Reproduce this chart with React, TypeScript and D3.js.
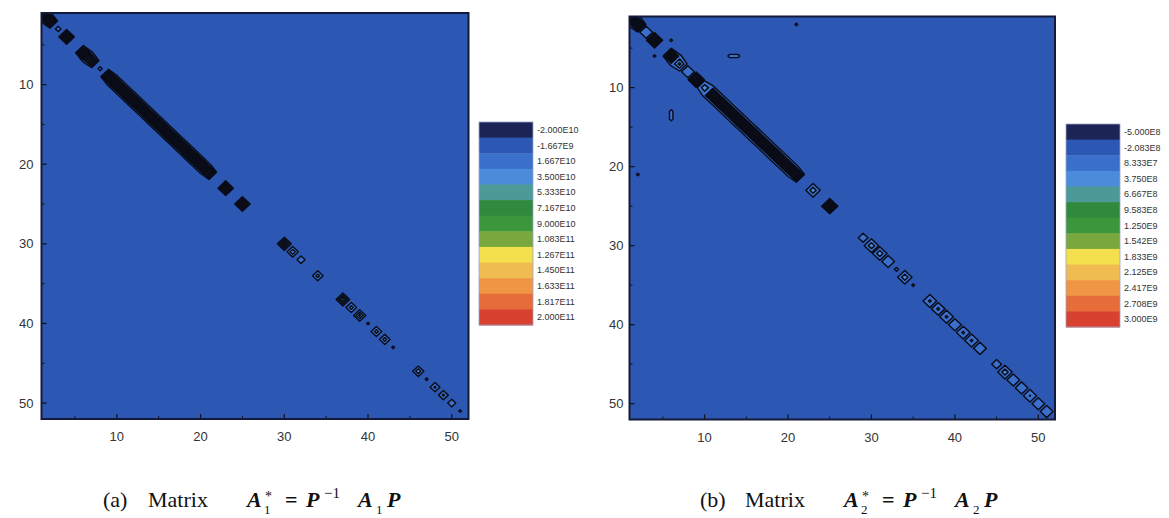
import React from "react";
import * as d3 from "d3";

const SIZE = 52;
const axisTicks = [10, 20, 30, 40, 50];
const minorTicks = [5, 15, 25, 35, 45];

const levelsA = [-2.0e10, -1.667e9, 1.667e10, 3.5e10, 5.333e10, 7.167e10, 9.0e10, 1.083e11, 1.267e11, 1.45e11, 1.633e11, 1.817e11, 2.0e11];
const levelLabelsA = ["-2.000E10", "-1.667E9", "1.667E10", "3.500E10", "5.333E10", "7.167E10", "9.000E10", "1.083E11", "1.267E11", "1.450E11", "1.633E11", "1.817E11", "2.000E11"];
const levelsB = [-5.0e8, -2.083e8, 8.333e7, 3.75e8, 6.667e8, 9.583e8, 1.25e9, 1.542e9, 1.833e9, 2.125e9, 2.417e9, 2.708e9, 3.0e9];
const levelLabelsB = ["-5.000E8", "-2.083E8", "8.333E7", "3.750E8", "6.667E8", "9.583E8", "1.250E9", "1.542E9", "1.833E9", "2.125E9", "2.417E9", "2.708E9", "3.000E9"];
const bandColors = ["#1b2455", "#2c57b2", "#3a70cc", "#4b8cda", "#4b9a98", "#2f8a3e", "#3b963c", "#7aa83e", "#f3e04c", "#f0bc52", "#ef9544", "#e66c3a", "#d8412f"];

// diagonal entries of A1* (x 1E10), rows 1..52
const diagA = [
  20, 20, 2.5, 20, 0, 20, 12, 2.2, 20, 20,
  20, 20, 20, 20, 20, 20, 20, 20, 20, 20,
  20, 0, 20, 0, 20, 0, 0, 0, 0, 10,
  5, 3.2, 0, 4.5, 0, 0, 9, 4.5, 6, 2,
  4.5, 4.5, 2, 0, 0, 5, 2, 4, 4, 3.2,
  2, 0,
];
// symmetric off-diagonal entries of A1* (x 1E10): (row, row+1)
const offRowsA = [1, 6, 9, 10, 11, 12, 13, 14, 15, 16, 17, 18, 19, 20];
const offValsA = [2.0, 2.0, 2.0, 2.0, 2.0, 2.0, 2.0, 2.0, 2.0, 2.0, 2.0, 2.0, 2.0, 2.0];

// diagonal entries of A2* (x 1E8), rows 1..52
const diagB = [
  30, 30, 3.5, 30, 0, 30, 8, 3.5, 30, 6,
  30, 30, 30, 30, 30, 30, 30, 30, 30, 30,
  30, 0, 6, 0, 30, 0, 0, 0, 2, 6,
  6, 3.5, 1.1, 6, 1.0, 0, 4.5, 4.5, 4.5, 3.5,
  4.5, 4.5, 3.5, 0, 2, 6, 3.5, 3.5, 4, 3.5,
  3.5, 0,
];
// symmetric off-diagonal entries of A2* (x 1E8): (row, row+1)
const offRowsB = [1, 6, 10, 11, 12, 13, 14, 15, 16, 17, 18, 19, 20];
const offValsB = [1.1, 1.1, 1.1, 1.1, 1.1, 1.1, 1.1, 1.1, 1.1, 1.1, 1.1, 1.1, 1.1];
// isolated entries of A2* (x 1E8)
const isoRowsB = [6, 6, 13, 14, 2, 21, 4, 6];
const isoColsB = [13, 14, 6, 6, 21, 2, 6, 4];
const isoValsB = [1.05, 1.05, 1.05, 1.05, 1.0, 1.0, 1.0, 1.0];

function buildGrid(diag: number[], unit: number, offRows: number[], offVals: number[], rows: number[] = [], cols: number[] = [], vals: number[] = []) {
  const g = new Array(SIZE * SIZE).fill(0);
  diag.forEach((v, i) => (g[i * SIZE + i] = v * unit));
  offRows.forEach((r, k) => {
    g[(r - 1) * SIZE + r] = offVals[k] * unit;
    g[r * SIZE + (r - 1)] = offVals[k] * unit;
  });
  rows.forEach((r, k) => (g[(r - 1) * SIZE + (cols[k] - 1)] = vals[k] * unit));
  return g;
}

const gridA = buildGrid(diagA, 1e10, offRowsA, offValsA);
const gridB = buildGrid(diagB, 1e8, offRowsB, offValsB, isoRowsB, isoColsB, isoValsB);

const SANS = "'Liberation Sans', Arial, sans-serif";
const SERIF = "'Liberation Serif', 'Times New Roman', serif";

function Heatmap({ id, left, right, top, bottom, grid, levels, labelGap }: any) {
  const x = d3.scaleLinear().domain([1, SIZE]).range([left, right]);
  const y = d3.scaleLinear().domain([1, SIZE]).range([top, bottom]);
  const contours = d3.contours().size([SIZE, SIZE]).thresholds(levels)(grid);
  const toPath = (geom: any) =>
    geom.coordinates
      .map((poly: any) =>
        poly
          .map((ring: any) => "M" + ring.map(([cx, cy]: number[]) => `${x(cx + 0.5).toFixed(2)},${y(cy + 0.5).toFixed(2)}`).join("L") + "Z")
          .join("")
      )
      .join("");
  return (
    <g>
      <defs>
        <clipPath id={id}>
          <rect x={left} y={top} width={right - left} height={bottom - top} />
        </clipPath>
      </defs>
      <rect x={left} y={top} width={right - left} height={bottom - top} fill={bandColors[1]} />
      <g clipPath={`url(#${id})`}>
        {contours.map((c: any, i: number) => (
          <path key={i} d={toPath(c)} fill={bandColors[i]} fillRule="evenodd" stroke="#0a0c18" strokeWidth={1.4} strokeLinejoin="round" />
        ))}
      </g>
      {axisTicks.map((t) => (
        <g key={"M" + t}>
          <line x1={left} x2={left + 5} y1={y(t)} y2={y(t)} stroke="#111" strokeWidth={1.2} />
          <line x1={x(t)} x2={x(t)} y1={bottom} y2={bottom - 5} stroke="#111" strokeWidth={1.2} />
          <text x={left - labelGap} y={y(t)} dy="0.35em" textAnchor="end" fontFamily={SANS} fontSize={13} fill="#333">{t}</text>
          <text x={x(t)} y={bottom + 22} textAnchor="middle" fontFamily={SANS} fontSize={13} fill="#333">{t}</text>
        </g>
      ))}
      {minorTicks.map((t) => (
        <g key={"m" + t}>
          <line x1={left} x2={left + 3} y1={y(t)} y2={y(t)} stroke="#111" strokeWidth={1} />
          <line x1={x(t)} x2={x(t)} y1={bottom} y2={bottom - 3} stroke="#111" strokeWidth={1} />
        </g>
      ))}
      <rect x={left} y={top} width={right - left} height={bottom - top} fill="none" stroke="#141a3a" strokeWidth={2} />
    </g>
  );
}

function ColorLegend({ x0, top, bottom, labels }: any) {
  const band = d3.scaleBand<string>().domain(labels).range([top, bottom]).padding(0);
  const bw = band.bandwidth();
  return (
    <g>
      {labels.map((l: string, i: number) => (
        <rect key={l} x={x0} y={band(l)} width={54} height={bw + 0.5} fill={bandColors[i]} />
      ))}
      <rect x={x0} y={top} width={54} height={bottom - top} fill="none" stroke="#9aa6c8" strokeWidth={0.8} />
      {labels.map((l: string) => (
        <text key={"t" + l} x={x0 + 58} y={(band(l) as number) + bw / 2} dy="0.35em" fontFamily={SANS} fontSize={9} fill="#333">{l}</text>
      ))}
    </g>
  );
}

function Caption({ x0, letter, idx }: any) {
  const base = 507;
  return (
    <g fontFamily={SERIF} fill="#111">
      <text x={x0} y={base} fontSize={22}>({letter})</text>
      <text x={x0 + 45} y={base} fontSize={22}>Matrix</text>
      <text x={x0 + 144} y={base} fontSize={22} fontWeight="bold" fontStyle="italic">A</text>
      <text x={x0 + 161} y={base + 7} fontSize={13}>{idx}</text>
      <text x={x0 + 162} y={base - 6} fontSize={14}>*</text>
      <text x={x0 + 182} y={base} fontSize={22} fontWeight="bold">=</text>
      <text x={x0 + 203} y={base} fontSize={22} fontWeight="bold" fontStyle="italic">P</text>
      <text x={x0 + 221} y={base - 9} fontSize={15}>−1</text>
      <text x={x0 + 255} y={base} fontSize={22} fontWeight="bold" fontStyle="italic">A</text>
      <text x={x0 + 273} y={base + 7} fontSize={13}>{idx}</text>
      <text x={x0 + 284} y={base} fontSize={22} fontWeight="bold" fontStyle="italic">P</text>
    </g>
  );
}

export default function App() {
  return (
    <svg width={1169} height={518} style={{ position: "absolute", left: 0, top: 0, background: "#fff" }}>
      <Heatmap id="clipA" left={41.5} right={468.5} top={13} bottom={419} grid={gridA} levels={levelsA} labelGap={8} />
      <Heatmap id="clipB" left={629.5} right={1055} top={16.5} bottom={419.5} grid={gridB} levels={levelsB} labelGap={6} />
      <ColorLegend x0={479} top={122} bottom={325} labels={levelLabelsA} />
      <ColorLegend x0={1066} top={124} bottom={327} labels={levelLabelsB} />
      <Caption x0={103} letter="a" idx="1" />
      <Caption x0={700} letter="b" idx="2" />
    </svg>
  );
}
